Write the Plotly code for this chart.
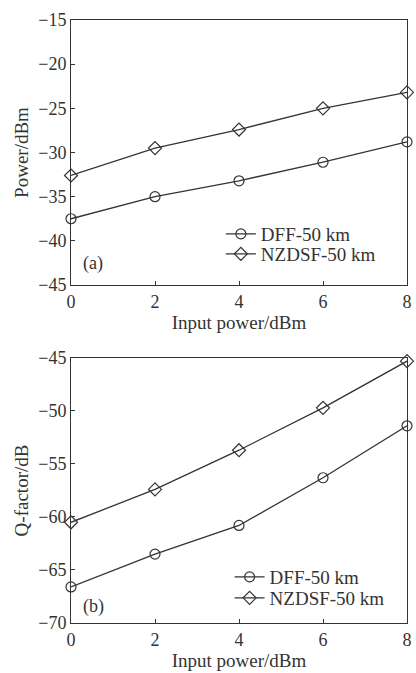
import plotly.graph_objects as go

# input power (dBm)
input_power = [0, 2, 4, 6, 8]

# (a) received power (dBm)
power_dff = [-37.5, -35.0, -33.2, -31.1, -28.8]
power_nzdsf = [-32.6, -29.5, -27.4, -25.0, -23.2]

# (b) Q-factor (dB)
q_dff = [-66.6, -63.5, -60.8, -56.3, -51.4]
q_nzdsf = [-60.5, -57.4, -53.7, -49.7, -45.3]

series_names = ["DFF-50 km", "NZDSF-50 km"]

ink = "#333333"
serif = "Liberation Serif, Times New Roman, serif"
fs = 18
fs_title = 19

fig = go.Figure()

def add_pair(y1, y2, xa, ya, legends):
    for y, sym, name, lg in [(y1, "circle-open", series_names[0], legends[0]),
                             (y2, "diamond-open", series_names[1], legends[1])]:
        fig.add_trace(go.Scatter(
            x=input_power, y=y, mode="lines+markers", name=name,
            xaxis=xa, yaxis=ya, legend=lg, cliponaxis=False,
            line=dict(color=ink, width=1.3),
            marker=dict(symbol=sym, size=10, color=ink, line=dict(width=1.2, color=ink)),
        ))

add_pair(power_dff, power_nzdsf, "x", "y", ("legend", "legend2"))
add_pair(q_dff, q_nzdsf, "x2", "y2", ("legend3", "legend4"))

axis_common = dict(
    showline=True, linecolor=ink, linewidth=1, mirror=True,
    ticks="inside", ticklen=4, tickcolor=ink, showgrid=False, zeroline=False,
    ticklabeloverflow="allow",
    tickfont=dict(family=serif, size=fs, color=ink),
    title_font=dict(family=serif, size=fs_title, color=ink),
)

def legend_at(x, y):
    return dict(x=x, y=y, xanchor="left", yanchor="middle",
                bgcolor="rgba(0,0,0,0)", itemwidth=30,
                font=dict(family=serif, size=fs_title, color=ink))

fig.update_layout(
    width=416, height=673,
    margin=dict(l=71, r=4, t=20, b=50),
    paper_bgcolor="white", plot_bgcolor="white",
    font=dict(family=serif, color=ink),
    xaxis=dict(domain=[0, 1], anchor="y", range=[0, 8], dtick=2,
               title=dict(text="Input power/dBm", standoff=5), **axis_common),
    yaxis=dict(domain=[0.5605, 1], anchor="x", range=[-45, -15], dtick=5,
               title=dict(text="Power/dBm", standoff=4), **axis_common),
    xaxis2=dict(domain=[0, 1], anchor="y2", range=[0, 8], dtick=2,
                title=dict(text="Input power/dBm", standoff=5), **axis_common),
    yaxis2=dict(domain=[0, 0.4395], anchor="x2", range=[-70, -45], dtick=5,
                title=dict(text="Q-factor/dB", standoff=4), **axis_common),
    legend=legend_at(0.446, 0.645),
    legend2=legend_at(0.446, 0.612),
    legend3=legend_at(0.472, 0.0763),
    legend4=legend_at(0.472, 0.0415),
    showlegend=True,
)

fig.add_annotation(text="(a)", x=0.03, y=0.597, xref="paper", yref="paper",
                   showarrow=False, xanchor="left", yanchor="middle",
                   font=dict(family=serif, size=fs, color=ink))
fig.add_annotation(text="(b)", x=0.03, y=0.028, xref="paper", yref="paper",
                   showarrow=False, xanchor="left", yanchor="middle",
                   font=dict(family=serif, size=fs, color=ink))

# drop the default body margin so the 416x673 figure fits the window exactly
fig.write_html("out.html", config={"displayModeBar": False},
               post_script="document.body.style.margin='0px';")
